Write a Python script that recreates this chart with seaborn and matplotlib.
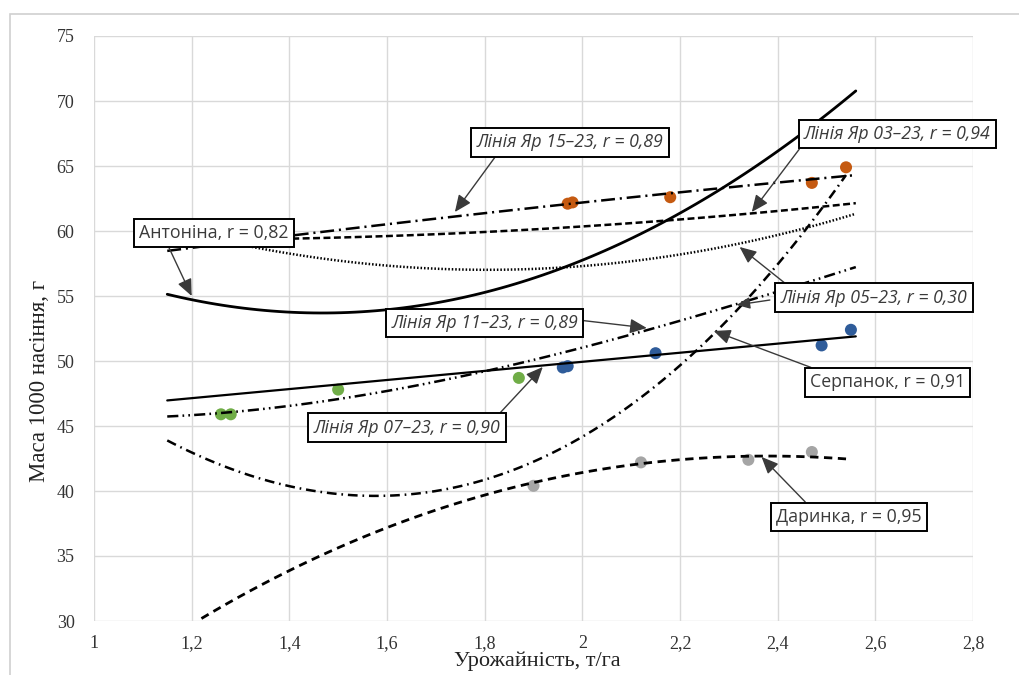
import numpy as np
import pandas as pd
import matplotlib
matplotlib.use("Agg")
import matplotlib.pyplot as plt
import seaborn as sns
from matplotlib.patches import Rectangle

# Точки спостережень (урожайність, т/га; маса 1000 насінин, г)
orange_x = [1.97, 1.98, 2.18, 2.47, 2.54]
orange_y = [62.1, 62.2, 62.6, 63.7, 64.9]
blue_x = [1.96, 1.97, 2.15, 2.49, 2.55]
blue_y = [49.5, 49.6, 50.6, 51.2, 52.4]
green_x = [1.26, 1.28, 1.50, 1.87]
green_y = [45.9, 45.9, 47.8, 48.7]
grey_x = [1.90, 2.12, 2.34, 2.47]
grey_y = [40.4, 42.2, 42.4, 43.0]

# Лінії тренду: точки, зчитані з кривих
antonina_x = [1.15, 1.35, 1.50, 1.85, 2.05, 2.20, 2.42, 2.56]
antonina_y = [55.1, 53.9, 53.8, 55.7, 58.5, 61.4, 66.8, 70.7]
yar15_x = [1.15, 1.35, 1.50, 1.73, 1.97, 2.20, 2.40, 2.56]
yar15_y = [58.5, 59.4, 60.0, 61.1, 62.1, 63.0, 63.7, 64.3]
yar03_x = [1.15, 1.50, 1.85, 2.20, 2.40, 2.56]
yar03_y = [59.3, 59.5, 60.1, 60.8, 61.5, 62.2]
yar05_x = [1.15, 1.37, 1.52, 1.80, 2.20, 2.40, 2.56]
yar05_y = [60.2, 58.6, 57.6, 57.0, 58.2, 59.6, 61.4]
yar11_x = [1.15, 1.26, 1.50, 1.86, 2.13, 2.30, 2.56]
yar11_y = [45.7, 46.0, 47.2, 49.5, 52.5, 54.2, 57.2]
yar07_x = [1.15, 1.30, 1.49, 1.60, 1.91, 2.03, 2.12, 2.20, 2.26, 2.42, 2.54]
yar07_y = [43.8, 41.6, 39.8, 39.6, 42.2, 45.3, 46.8, 49.7, 51.8, 58.5, 64.2]
serpanok_x = [1.15, 1.50, 1.85, 2.20, 2.56]
serpanok_y = [47.1, 48.1, 49.3, 50.6, 52.0]
darynka_x = [1.22, 1.50, 1.71, 1.89, 2.12, 2.20, 2.36, 2.54]
darynka_y = [30.2, 35.6, 38.7, 40.5, 42.2, 42.4, 42.6, 42.5]

x_ticks = [1, 1.2, 1.4, 1.6, 1.8, 2, 2.2, 2.4, 2.6, 2.8]
x_tick_labels = ["1", "1,2", "1,4", "1,6", "1,8", "2", "2,2", "2,4", "2,6", "2,8"]
y_ticks = [30, 35, 40, 45, 50, 55, 60, 65, 70, 75]

sns.set_style("whitegrid")
plt.rcParams['font.family'] = ['Liberation Serif', 'DejaVu Serif']
plt.rcParams['lines.scale_dashes'] = False

fig = plt.figure(figsize=(10.19, 6.75), dpi=100)
ax = fig.add_axes([94 / 1019, 54 / 675, 879 / 1019, 585 / 675])

# точки
for xs, ys, col in [(orange_x, orange_y, "#C55A11"), (blue_x, blue_y, "#2F5C9A"),
                    (green_x, green_y, "#70AD47"), (grey_x, grey_y, "#A5A5A5")]:
    sns.scatterplot(x=xs, y=ys, color=col, s=75, edgecolor="none", ax=ax, zorder=2)

# лінії тренду (поліноміальні)
trends = [
    (antonina_x, antonina_y, 2, dict(ls="-", lw=2.0)),
    (yar15_x, yar15_y, 2, dict(ls=(0, (10, 3.5, 1.5, 3.5)), lw=1.8)),
    (yar03_x, yar03_y, 2, dict(ls=(0, (5, 2.5)), lw=1.8)),
    (yar05_x, yar05_y, 2, dict(ls=(0, (1.1, 1.4)), lw=1.8)),
    (yar11_x, yar11_y, 3, dict(ls=(0, (8, 3, 1.2, 3, 1.2, 3)), lw=1.8)),
    (yar07_x, yar07_y, 3, dict(ls=(0, (7, 3.5, 1.2, 3.5)), lw=1.8)),
    (serpanok_x, serpanok_y, 1, dict(ls="-", lw=1.6)),
    (darynka_x, darynka_y, 3, dict(ls=(0, (6, 4)), lw=2.0)),
]
for xs, ys, order, kw in trends:
    sns.regplot(x=np.array(xs), y=np.array(ys), order=order, ci=None, scatter=False,
                truncate=True, color="black", line_kws=dict(zorder=3, **kw), ax=ax)

ax.set_xlim(1, 2.8)
ax.set_ylim(30, 75)
ax.set_xticks(x_ticks)
ax.set_xticklabels(x_tick_labels)
ax.set_yticks(y_ticks)
ax.grid(True, color="#D9D9D9", lw=1.0)
ax.tick_params(axis="both", length=0, labelsize=13, colors="#333333")
ax.tick_params(axis="y", pad=14)
ax.tick_params(axis="x", pad=10)
for s in ax.spines.values():
    s.set_visible(False)

ax.set_xlabel("Урожайність, т/га", fontsize=16, color="#222222")
ax.set_ylabel("Маса 1000 насіння, г", fontsize=16.5, color="#222222")
ax.xaxis.set_label_coords(0.504, -0.052)
ax.yaxis.set_label_coords(-0.05, 0.41)

# підписи з стрілками
box = dict(boxstyle="square,pad=0.3", fc="white", ec="black", lw=1.4)
labels = [
    ("Антоніна, r = 0,82", (1.200, 55.0), (1.246, 59.85), (0.18, 0.0), "normal"),
    ("Лінія Яр 15–23, r = 0,89", (1.739, 61.46), (1.975, 66.81), (0.12, 0.0), "italic"),
    ("Лінія Яр 03–23, r = 0,94", (2.347, 61.46), (2.645, 67.46), (0.0, 0.0), "italic"),
    ("Лінія Яр 05–23, r = 0,30", (2.322, 58.77), (2.597, 54.88), (0.06, 1.0), "italic"),
    ("Лінія Яр 11–23, r = 0,89", (2.132, 52.54), (1.800, 52.92), (1.0, 0.67), "italic"),
    ("Лінія Яр 07–23, r = 0,90", (1.919, 49.54), (1.641, 44.88), (0.97, 1.0), "italic"),
    ("Серпанок, r = 0,91", (2.269, 52.31), (2.625, 48.35), (0.11, 1.0), "normal"),
    ("Даринка, r = 0,95", (2.367, 42.62), (2.546, 38.00), (0.24, 1.0), "normal"),
]
for text, tip, pos, rp, st in labels:
    ax.annotate(text, xy=tip, xytext=pos, textcoords="data", ha="center", va="center",
                fontsize=12.8, family=["Open Sans", "DejaVu Sans"], style=st, color="#3a3a3a",
                bbox=box, zorder=5, annotation_clip=False,
                arrowprops=dict(arrowstyle="-|>,head_length=0.8,head_width=0.35", color="#3a3a3a",
                                lw=1.0, relpos=rp, shrinkA=0, shrinkB=0))
# друга стрілка від підпису 05-23
ax.annotate("", xy=(2.316, 54.31), xytext=(2.384, 54.69), textcoords="data",
            annotation_clip=False,
            arrowprops=dict(arrowstyle="-|>,head_length=0.8,head_width=0.35", color="#3a3a3a",
                            lw=1.0, shrinkA=0, shrinkB=0))

fig.add_artist(Rectangle((10 / 1019, -0.01), 1.0, 1 - 14 / 675 + 0.01, transform=fig.transFigure,
                         fill=False, ec="#D0D0D0", lw=1.2))

fig.savefig("out.png", dpi=100)
